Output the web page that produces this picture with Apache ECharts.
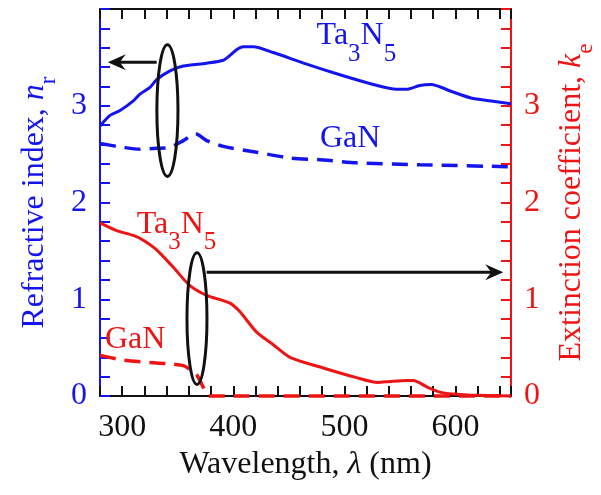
<!DOCTYPE html>
<html>
<head>
<meta charset="utf-8">
<script src="https://cdn.jsdelivr.net/npm/echarts@6/dist/echarts.min.js"></script>
<style>html,body{margin:0;padding:0;background:#fff}#c{width:601px;height:495px}</style>
</head>
<body>
<div id="c"></div>
<script>
// ---- data ----
const lamTaN_n = [280, 289, 298, 310, 316, 325, 331, 343, 355, 376, 391, 397, 403, 409, 418, 436, 466, 496, 526, 547, 556, 568, 578, 596, 614, 632, 650];
const nTaN     = [2.79, 2.90, 2.95, 3.05, 3.12, 3.19, 3.27, 3.36, 3.41, 3.44, 3.47, 3.52, 3.58, 3.61, 3.61, 3.55, 3.43, 3.32, 3.22, 3.17, 3.17, 3.21, 3.22, 3.15, 3.08, 3.05, 3.02];
const lamGaN_n = [280, 301, 316, 331, 343, 355, 366, 376, 391, 421, 451, 481, 511, 568, 650];
const nGaN     = [2.61, 2.57, 2.55, 2.56, 2.57, 2.64, 2.71, 2.64, 2.58, 2.52, 2.46, 2.44, 2.41, 2.39, 2.37];
const lamTaN_k = [280, 295, 310, 319, 331, 346, 361, 376, 397, 406, 421, 436, 451, 481, 511, 530, 541, 556, 562, 575, 586, 598, 611, 650];
const kTaN     = [1.79, 1.71, 1.66, 1.61, 1.51, 1.33, 1.14, 1.04, 0.96, 0.87, 0.66, 0.53, 0.40, 0.29, 0.19, 0.14, 0.15, 0.16, 0.16, 0.09, 0.04, 0.02, 0.01, 0.0];
const lamGaN_k = [280, 301, 331, 346, 356, 367, 373, 378, 650];
const kGaN     = [0.42, 0.37, 0.34, 0.33, 0.31, 0.22, 0.09, 0.0, 0.0];
const xTickLabels = [300, 400, 500, 600];
const yTickLabels = [0, 1, 2, 3];

// ---- styling ----
const BLUE = '#1414ee', RED = '#ee1414', BLACK = '#111';
const FF = 'Liberation Serif';
const FS = 32;
const pair = (xs, ys) => xs.map((x, i) => [x, ys[i]]);
const isInt = v => Math.abs(v - Math.round(v)) < 1e-6;

const chart = echarts.init(document.getElementById('c'));

function richStyles(color) {
  return {
    m: {fontFamily: FF, fontSize: FS, color: color},
    i: {fontFamily: FF, fontSize: FS, color: color, fontStyle: 'italic'},
    s: {fontFamily: FF, fontSize: 23, color: color, padding: [28, 0, 0, 0]}
  };
}

const yAxisBase = (color, pos) => ({
  type: 'value', position: pos, min: 0, max: 4, interval: 0.2,
  axisLine: {show: true, lineStyle: {color: color, width: 2}},
  axisTick: {show: true, inside: true, length: 10, lineStyle: {color: color, width: 2}},
  splitLine: {show: false},
  axisLabel: {
    color: color, fontFamily: FF, fontSize: FS, margin: 13,
    formatter: v => (isInt(v) && yTickLabels.indexOf(Math.round(v)) >= 0) ? String(Math.round(v)) : ''
  },
  nameLocation: 'middle', nameRotate: 90,
  nameTextStyle: {color: color, fontFamily: FF, fontSize: FS, rich: richStyles(color)}
});

const xAxisBase = pos => ({
  type: 'value', position: pos, min: 280, max: 650, interval: 20,
  axisLine: {show: true, onZero: false, lineStyle: {color: BLACK, width: 2}},
  axisTick: {show: true, inside: true, length: 10, lineStyle: {color: BLACK, width: 2}},
  splitLine: {show: false},
  axisLabel: {
    show: pos === 'bottom', color: BLACK, fontFamily: FF, fontSize: FS, margin: 16,
    formatter: v => (xTickLabels.indexOf(Math.round(v)) >= 0 && isInt(v)) ? String(Math.round(v)) : ''
  }
});

const option = {
  animation: false,
  backgroundColor: '#fff',
  textStyle: {fontFamily: FF},
  grid: {left: 100, right: 90, top: 9, bottom: 99, containLabel: false, outerBoundsMode: 'none'},
  xAxis: [
    Object.assign(xAxisBase('bottom'), {
      name: '{m|Wavelength, }{i|λ}{m| (nm)}', nameLocation: 'middle', nameGap: 28,
      nameTextStyle: {color: BLACK, fontFamily: FF, fontSize: FS, rich: {
        m: {fontFamily: FF, fontSize: FS, color: BLACK},
        i: {fontFamily: FF, fontSize: FS, color: BLACK, fontStyle: 'italic'}
      }}
    }),
    xAxisBase('top')
  ],
  yAxis: [
    Object.assign(yAxisBase(BLUE, 'left'), {name: '{m|Refractive index, }{i|n}{s|r}', nameGap: 40}),
    Object.assign(yAxisBase(RED, 'right'), {name: '{m|Extinction coefficient, }{i|k}{s|e}', nameGap: 35})
  ],
  series: [
    {name: 'Ta3N5 n', type: 'line', xAxisIndex: 0, yAxisIndex: 0, data: pair(lamTaN_n, nTaN),
     showSymbol: false, smooth: 0.25, lineStyle: {color: BLUE, width: 3}, clip: false},
    {name: 'GaN n', type: 'line', xAxisIndex: 0, yAxisIndex: 0, data: pair(lamGaN_n, nGaN),
     showSymbol: false, smooth: 0.25, lineStyle: {color: BLUE, width: 3.5, type: [16, 9]}, clip: false},
    {name: 'Ta3N5 k', type: 'line', xAxisIndex: 0, yAxisIndex: 1, data: pair(lamTaN_k, kTaN),
     showSymbol: false, smooth: 0.25, lineStyle: {color: RED, width: 3}, clip: false},
    {name: 'GaN k', type: 'line', xAxisIndex: 0, yAxisIndex: 1, data: pair(lamGaN_k, kGaN),
     showSymbol: false, smooth: 0.2, lineStyle: {color: RED, width: 3.5, type: [16, 9]}, clip: false, z: 5}
  ]
};

// ---- annotations placed through the axes' own scales ----
const P = (x, y) => chart.convertToPixel({xAxisIndex: 0, yAxisIndex: 0}, [x, y]);
function ellipseAt(lx, v, dl, dv) {
  const c = P(lx, v), e = P(lx + dl, v + dv);
  return {type: 'ellipse', shape: {cx: c[0], cy: c[1], rx: Math.abs(e[0] - c[0]), ry: Math.abs(c[1] - e[1])},
          style: {fill: 'none', stroke: BLACK, lineWidth: 3}, z: 10};
}
function arrow(l0, v0, l1, dir) {
  const a = P(l0, v0), b = P(l1, v0);
  const tip = b[0], y = b[1];
  const d = dir;
  return [
    {type: 'line', shape: {x1: a[0], y1: y, x2: tip - d * 8, y2: y}, style: {stroke: BLACK, lineWidth: 3}, z: 10},
    {type: 'polygon', shape: {points: [[tip, y], [tip - d * 18, y - 8], [tip - d * 12, y], [tip - d * 18, y + 8]]},
     style: {fill: BLACK}, z: 10}
  ];
}
function label(lx, v, rich, color, parts) {
  const p = P(lx, v);
  return {type: 'text', x: p[0], y: p[1], z: 10,
    style: {text: parts, rich: rich, fill: color, fontFamily: FF, fontSize: FS,
            align: 'left', verticalAlign: 'middle', textAlign: 'left', textVerticalAlign: 'middle'}};
}
const richB = {
  m: {fontFamily: FF, fontSize: FS, color: BLUE},
  s: {fontFamily: FF, fontSize: 25, color: BLUE, padding: [36, 0, 0, 0]}
};
const richR = {
  m: {fontFamily: FF, fontSize: FS, color: RED},
  s: {fontFamily: FF, fontSize: 25, color: RED, padding: [36, 0, 0, 0]}
};

function draw() {
  chart.clear();
  chart.setOption(option, true);
  const g = [
    ellipseAt(340.7, 2.95, 9.5, 0.68),
    ...arrow(331, 3.45, 287, -1),
    ellipseAt(367.3, 0.80, 9.0, 0.68),
    ...arrow(376, 1.28, 643, 1),
    label(475, 3.72, richB, BLUE, '{m|Ta}{s|3}{m|N}{s|5}'),
    label(478, 2.66, richB, BLUE, '{m|GaN}'),
    label(313, 1.77, richR, RED, '{m|Ta}{s|3}{m|N}{s|5}'),
    label(284.5, 0.58, richR, RED, '{m|GaN}')
  ];
  chart.setOption({graphic: {elements: g}});
}

// warm the serif font in a scratch canvas, then draw; redraw once fonts are settled
(function () {
  const cv = document.createElement('canvas').getContext('2d');
  cv.font = FS + 'px ' + FF; cv.fillText('Wavelength 0123', 0, 10);
  cv.font = 'italic ' + FS + 'px ' + FF; cv.fillText('λ n k', 0, 10);
})();
draw();
if (document.fonts && document.fonts.load) {
  Promise.all([
    document.fonts.load(FS + 'px "' + FF + '"'),
    document.fonts.load('italic ' + FS + 'px "' + FF + '"')
  ]).then(draw, draw);
}
setTimeout(draw, 50);
</script>
</body>
</html>
